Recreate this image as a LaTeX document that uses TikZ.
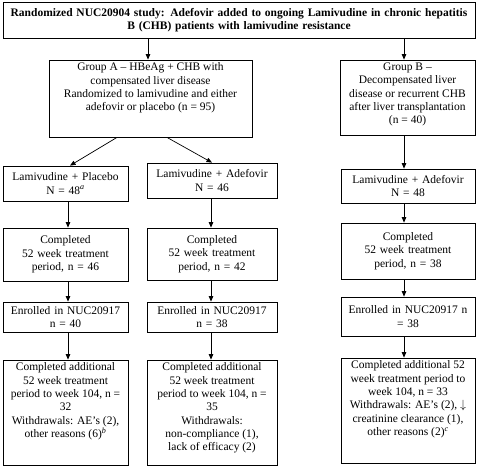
\documentclass[tikz,border=0pt]{standalone}
\usepackage{fontspec}
\setmainfont{Liberation Serif}
\usetikzlibrary{arrows.meta,calc}
\newcommand{\tbox}[3]{\begin{minipage}[t][#1][t]{#2}\centering #3\end{minipage}}
\newcommand{\supi}[1]{\textsuperscript{\itshape #1}}
\begin{document}
\begin{tikzpicture}[x=1pt,y=-1pt,
  box/.style={draw, line width=0.8pt, inner sep=0pt, align=center, font=\fontsize{11.5}{13.3}\selectfont},
  arr/.style={-{Triangle[length=5.5pt,width=4.5pt]}, line width=0.7pt}]
\useasboundingbox (0,0) rectangle (481,466);

% title
\node[box, minimum width=472pt, minimum height=36pt, text width=470pt, font=\fontsize{11.5}{13.3}\selectfont\bfseries] (title) at (239,20)
  {Randomized NUC20904 study: Adefovir added to ongoing Lamivudine in chronic hepatitis\\B (CHB) patients with lamivudine resistance};

% groups
\node[box, minimum width=203pt, minimum height=77pt] (gA) at (150.5,98.5)
  {\tbox{71pt}{200pt}{Group A -- HBeAg + CHB with\\compensated liver disease\\Randomized to lamivudine and either\\adefovir or placebo (n = 95)}};
\node[box, minimum width=135pt, minimum height=75pt] (gB) at (407.5,97.5)
  {\tbox{69pt}{132pt}{Group B --\\Decompensated liver\\disease or recurrent CHB\\after liver transplantation\\(n = 40)}};

% row 2
\node[box, minimum width=125pt, minimum height=35pt, text width=122pt] (lp) at (65.5,183.5)
  {Lamivudine + Placebo\\N = 48\supi{a}};
\node[box, minimum width=130pt, minimum height=35pt, text width=127pt] (la) at (212,180.5)
  {Lamivudine + Adefovir\\N = 46};
\node[box, minimum width=134pt, minimum height=34pt, text width=131pt] (lb) at (408,186)
  {Lamivudine + Adefovir\\N = 48};

% row 3
\node[box, minimum width=125pt, minimum height=53pt, text width=122pt] (c1) at (65.5,254.5)
  {Completed\\52 week treatment\\period, n = 46};
\node[box, minimum width=130pt, minimum height=52pt, text width=127pt] (c2) at (212,254)
  {Completed\\52 week treatment\\period, n = 42};
\node[box, minimum width=134pt, minimum height=56pt, text width=131pt] (c3) at (408,251)
  {Completed\\52 week treatment\\period, n = 38};

% row 4
\node[box, minimum width=125pt, minimum height=30pt, text width=122pt] (e1) at (65.5,317)
  {Enrolled in NUC20917\\n = 40};
\node[box, minimum width=130pt, minimum height=30pt, text width=127pt] (e2) at (212,317)
  {Enrolled in NUC20917\\n = 38};
\node[box, minimum width=134pt, minimum height=39pt, text width=131pt] (e3) at (408,316.5)
  {Enrolled in NUC20917 n\\= 38};

% row 5
\node[box, minimum width=125pt, minimum height=105pt] (f1) at (65.5,412.5)
  {\tbox{99pt}{122pt}{Completed additional\\52 week treatment\\period to week 104, n =\\32\\Withdrawals: AE’s (2),\\other reasons (6)\supi{b}}};
\node[box, minimum width=130pt, minimum height=105pt] (f2) at (212,412.5)
  {\tbox{99pt}{127pt}{Completed additional\\52 week treatment\\period to week 104, n =\\35\\Withdrawals:\\non-compliance (1),\\lack of efficacy (2)}};
\node[box, minimum width=134pt, minimum height=105pt] (f3) at (408,410.5)
  {\tbox{99pt}{131pt}{Completed additional 52\\week treatment period to\\week 104, n = 33\\Withdrawals: AE’s (2), $\downarrow$\\creatinine clearance (1),\\other reasons (2)\supi{c}}};

% column x positions
\coordinate (xA) at (148,0);
\coordinate (xB) at (404,0);
\coordinate (xL) at (68,0);
\coordinate (xM) at (211,0);

% connectors
\draw[arr] (title.south -| xA) -- (gA.north -| xA);
\draw[arr] (title.south -| xB) -- (gB.north -| xB);
\draw[arr] ($(gA.south)+(-33.5,0)$) -- ($(lp.north)+(4.5,0)$);
\draw[arr] ($(gA.south)+(16.5,0)$) -- (la.north);
\draw[arr] (gB.south -| xB) -- (lb.north -| xB);

\draw[arr] (lp.south -| xL) -- (c1.north -| xL);
\draw[arr] (c1.south -| xL) -- (e1.north -| xL);
\draw[arr] (e1.south -| xL) -- (f1.north -| xL);

\draw[arr] (la.south -| xM) -- (c2.north -| xM);
\draw[arr] (c2.south -| xM) -- (e2.north -| xM);
\draw[arr] (e2.south -| xM) -- (f2.north -| xM);

\draw[arr] (lb.south -| xB) -- (c3.north -| xB);
\draw[arr] (c3.south -| xB) -- (e3.north -| xB);
\draw[arr] (e3.south -| xB) -- (f3.north -| xB);
\end{tikzpicture}
\end{document}
